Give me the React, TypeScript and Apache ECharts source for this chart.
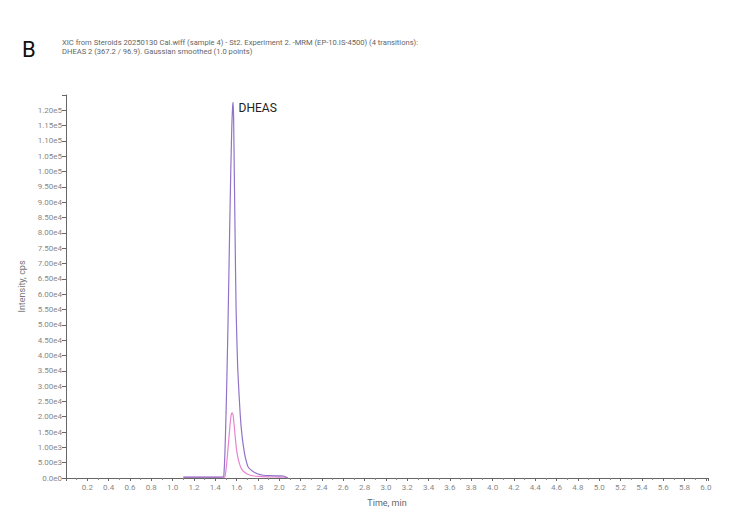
import React, { useEffect, useRef } from "react";
import * as echarts from "echarts";

const titleLetter = "B";
const subtitleLines = [
  "XIC from Steroids 20250130 Cal.wiff (sample 4) - St2. Experiment 2. -MRM (EP-10.IS-4500) (4 transitions):",
  "DHEAS 2 (367.2 / 96.9). Gaussian smoothed (1.0 points)",
];
const peakName = "DHEAS";
const xAxisName = "Time, min";
const yAxisName = "Intensity, cps";

const yTickLabels = [
  "0.0e0", "5.00e3", "1.00e3", "1.50e4", "2.00e4", "2.50e4", "3.00e4", "3.50e4",
  "4.00e4", "4.50e4", "5.00e4", "5.50e4", "6.00e4", "6.50e4", "7.00e4", "7.50e4",
  "8.00e4", "8.50e4", "9.00e4", "9.50e4", "1.00e5", "1.05e5", "1.10e5", "1.15e5", "1.20e5",
];

// Quantifier transition (purple)
const purpleTimes = [1.1, 1.2, 1.3, 1.4, 1.47, 1.48, 1.49, 1.5, 1.51, 1.52, 1.533, 1.545, 1.555, 1.562, 1.567, 1.572, 1.578, 1.586, 1.595, 1.61, 1.633, 1.65, 1.673, 1.69, 1.708, 1.75, 1.8, 1.85, 1.9, 2.0, 2.04, 2.06, 2.08];
const purpleValues = [300, 320, 300, 310, 320, 900, 8000, 20000, 35000, 52000, 77800, 100000, 115000, 121000, 122600, 117000, 100000, 77800, 55000, 36000, 21000, 14000, 8200, 5500, 3600, 2200, 1300, 900, 750, 700, 650, 300, 0];

// Qualifier transition (pink)
const pinkTimes = [1.1, 1.2, 1.3, 1.4, 1.48, 1.49, 1.5, 1.51, 1.52, 1.53, 1.54, 1.55, 1.558, 1.567, 1.58, 1.595, 1.61, 1.63, 1.649, 1.68, 1.727, 1.8, 1.9, 2.0, 2.06, 2.08];
const pinkValues = [200, 210, 200, 200, 220, 400, 2500, 6000, 10000, 14000, 18000, 20800, 21250, 20500, 16000, 10500, 7000, 4300, 2800, 1700, 900, 500, 350, 300, 250, 0];

const PEAK_INDEX = 14;

export default function App() {
  const ref = useRef<HTMLDivElement>(null);
  useEffect(() => {
    if (!ref.current) return;
    const chart = echarts.init(ref.current, undefined, { renderer: "svg" });
    const font = "Roboto, 'DejaVu Sans', sans-serif";
    const purpleData = purpleTimes.map((t, i) => [t, purpleValues[i]]);
    const pinkData = pinkTimes.map((t, i) => [t, pinkValues[i]]);
    chart.setOption({
      animation: false,
      backgroundColor: "#ffffff",
      graphic: [
        {
          type: "text",
          left: 22,
          top: 38,
          style: { text: titleLetter, fontSize: 22, fill: "#111", fontFamily: font },
        },
        {
          type: "text",
          left: 62,
          top: 38,
          style: {
            text: subtitleLines.join("\n"),
            fontSize: 7.6,
            lineHeight: 9,
            fill: "#666",
            fontFamily: font,
          },
        },
      ],
      grid: { left: 66, right: 42, top: 95, bottom: 40, containLabel: false },
      xAxis: {
        type: "value",
        min: 0,
        max: 6.02,
        interval: 0.2,
        name: xAxisName,
        nameLocation: "middle",
        nameGap: 20,
        nameTextStyle: { color: "#666", fontSize: 9, fontFamily: font },
        axisLine: { show: true, lineStyle: { color: "#666", width: 1 } },
        axisTick: { show: true, length: 3, lineStyle: { color: "#666" } },
        minorTick: { show: true, splitNumber: 2, length: 2, lineStyle: { color: "#888" } },
        splitLine: { show: false },
        axisLabel: {
          color: "#888",
          fontSize: 8,
          fontFamily: font,
          margin: 5,
          showMaxLabel: true,
          formatter: (v: number) => (v < 0.05 || v > 6.01 ? "" : v.toFixed(1)),
        },
      },
      yAxis: {
        type: "value",
        min: 0,
        max: 125000,
        interval: 5000,
        name: yAxisName,
        nameLocation: "middle",
        nameGap: 36,
        nameTextStyle: { color: "#777", fontSize: 9, fontFamily: font },
        axisLine: { show: true, lineStyle: { color: "#666", width: 1 } },
        axisTick: { show: true, length: 4, lineStyle: { color: "#666" } },
        splitLine: { show: false },
        axisLabel: {
          color: "#888",
          fontSize: 8,
          fontFamily: font,
          margin: 4,
          formatter: (v: number) => {
            const i = Math.round(v / 5000);
            return yTickLabels[i] ?? "";
          },
        },
      },
      series: [
        {
          type: "line",
          data: pinkData,
          showSymbol: false,
          symbol: "none",
          smooth: 0.2,
          lineStyle: { color: "#e884cf", width: 1.2 },
          z: 2,
        },
        {
          type: "line",
          data: purpleData,
          showSymbol: false,
          symbol: "none",
          smooth: 0.2,
          lineStyle: { color: "#9173c8", width: 1.2 },
          z: 3,
          markPoint: {
            symbol: "circle",
            symbolSize: 1,
            itemStyle: { color: "rgba(0,0,0,0)" },
            data: [
              {
                coord: [purpleTimes[PEAK_INDEX], purpleValues[PEAK_INDEX]],
                label: {
                  show: true,
                  formatter: peakName,
                  position: "right",
                  distance: 5,
                  offset: [0, 6],
                  color: "#222",
                  fontSize: 12,
                  fontFamily: font,
                },
              },
            ],
          },
        },
      ],
    });
    return () => chart.dispose();
  }, []);
  return <div ref={ref} style={{ width: 750, height: 518, position: "absolute", left: 0, top: 0 }} />;
}
